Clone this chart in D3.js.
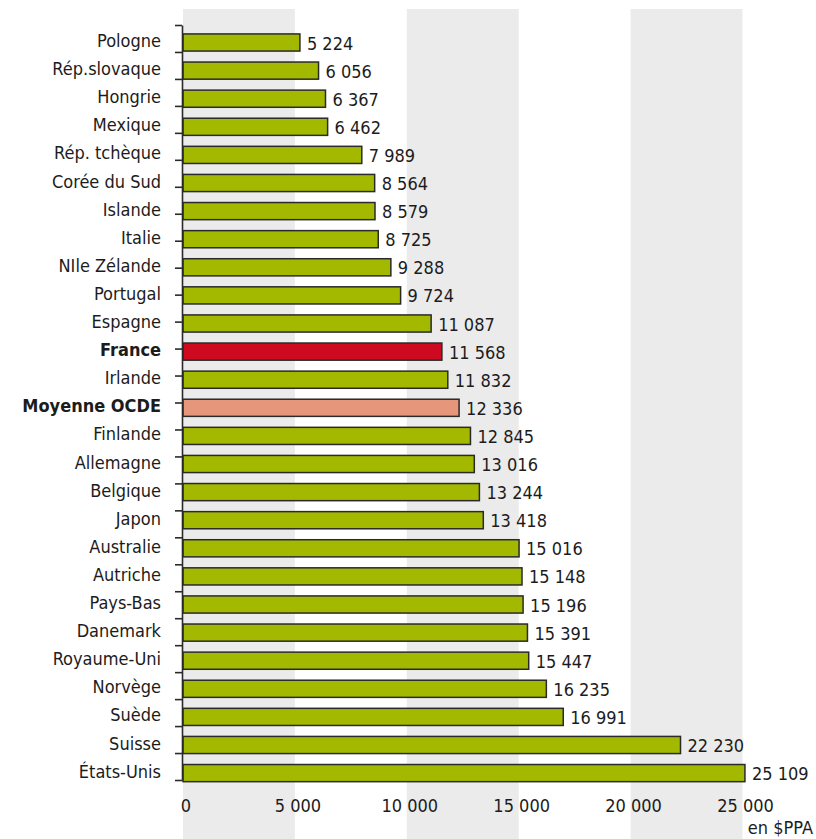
<!DOCTYPE html>
<html>
<head>
<meta charset="utf-8">
<script src="https://cdn.jsdelivr.net/npm/d3@7"></script>
<style>
  body { margin: 0; background: #fff; }
  svg text { font-family: "DejaVu Sans Condensed", "Liberation Sans Narrow", sans-serif; fill: #1c1c1c; }
</style>
</head>
<body>
<div id="chart"></div>
<script>
// Data
const countries = ["Pologne", "Rép.slovaque", "Hongrie", "Mexique", "Rép. tchèque", "Corée du Sud",
  "Islande", "Italie", "NIle Zélande", "Portugal", "Espagne", "France", "Irlande", "Moyenne OCDE",
  "Finlande", "Allemagne", "Belgique", "Japon", "Australie", "Autriche", "Pays-Bas", "Danemark",
  "Royaume-Uni", "Norvège", "Suède", "Suisse", "États-Unis"];
const values = [5224, 6056, 6367, 6462, 7989, 8564, 8579, 8725, 9288, 9724, 11087, 11568, 11832, 12336,
  12845, 13016, 13244, 13418, 15016, 15148, 15196, 15391, 15447, 16235, 16991, 22230, 25109];
const highlighted = ["France", "Moyenne OCDE"];
const xTicks = [0, 5000, 10000, 15000, 20000, 25000];
const shadedBands = [[0, 5000], [10000, 15000], [20000, 25000]];
const unitLabel = "en $PPA";

const data = countries.map((c, i) => ({ name: c, value: values[i] }));

const width = 816, height = 839;
const fontSize = 18;

const svg = d3.select("#chart")
  .append("svg")
  .attr("width", width)
  .attr("height", height);

// Scales
const x = d3.scaleLinear().domain([0, 25000]).range([183, 742.5]);
const y = d3.scaleBand()
  .domain(countries)
  .range([28.45, 787.15])
  .paddingInner(0.39)
  .paddingOuter(0.195);

const fr = d3.formatLocale({ decimal: ",", thousands: "\u00a0", grouping: [3], currency: ["", " $"] });
const fmt = fr.format(",d");

const colorOf = name => name === "France" ? "#cd0a1f" : name === "Moyenne OCDE" ? "#e5967b" : "#a3b900";

// Shaded background bands
svg.append("g")
  .selectAll("rect")
  .data(shadedBands)
  .join("rect")
  .attr("x", d => x(d[0]))
  .attr("width", d => x(d[1]) - x(d[0]))
  .attr("y", 9)
  .attr("height", height - 9)
  .attr("fill", "#ebebeb");

// Bars
svg.append("g")
  .selectAll("rect")
  .data(data)
  .join("rect")
  .attr("x", x(0))
  .attr("y", d => y(d.name))
  .attr("width", d => x(d.value) - x(0))
  .attr("height", y.bandwidth())
  .attr("fill", d => colorOf(d.name))
  .attr("stroke", "#2a2a2a")
  .attr("stroke-width", 1.5);

// Value labels
svg.append("g")
  .selectAll("text")
  .data(data)
  .join("text")
  .attr("x", d => x(d.value) + 7)
  .attr("y", d => y(d.name) + y.bandwidth() / 2 + 7)
  .attr("font-size", fontSize)
  .text(d => fmt(d.value));

// Category labels
svg.append("g")
  .selectAll("text")
  .data(data)
  .join("text")
  .attr("x", 161)
  .attr("y", d => y(d.name) + y.bandwidth() / 2 + 4.5)
  .attr("text-anchor", "end")
  .attr("font-size", fontSize)
  .attr("font-weight", d => highlighted.includes(d.name) ? "bold" : "normal")
  .text(d => d.name);

// Left axis line with its evenly spaced ticks
const tickPos = d3.scaleLinear().domain([0, 28]).range([25, 780]);
const yAxis = svg.append("g")
  .attr("transform", `translate(${x(0) - 1},0)`)
  .call(d3.axisLeft(tickPos).tickValues(d3.range(29)).tickSize(7).tickSizeOuter(0).tickFormat(""));
yAxis.selectAll("path, line").attr("stroke", "#2a2a2a").attr("stroke-width", 1.6);

// Bottom tick labels (no axis line)
svg.append("g")
  .selectAll("text")
  .data(xTicks)
  .join("text")
  .attr("x", d => x(d) + 3)
  .attr("y", 812)
  .attr("text-anchor", "middle")
  .attr("font-size", fontSize)
  .text(d => fmt(d));

svg.append("text")
  .attr("x", 813)
  .attr("y", 834)
  .attr("text-anchor", "end")
  .attr("font-size", fontSize)
  .text(unitLabel);
</script>
</body>
</html>
